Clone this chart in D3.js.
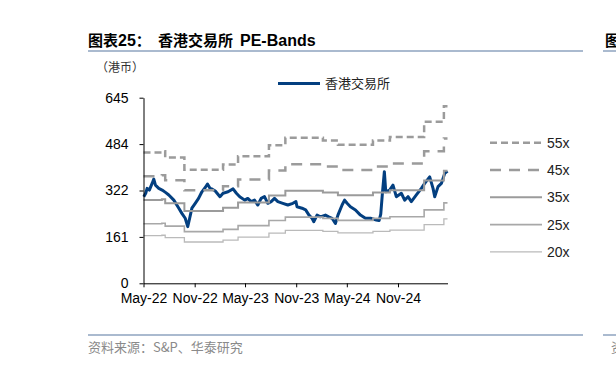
<!DOCTYPE html>
<html>
<head>
<meta charset="utf-8">
<script src="https://cdn.jsdelivr.net/npm/d3@7"></script>
<style>
  body { margin: 0; background: #fff; }
  svg { display: block; }
</style>
</head>
<body>
<div id="chart"></div>
<script>
// 香港交易所 share price (HKD)
const priceDates = [
  "2022-05-02","2022-05-09","2022-05-14","2022-05-22","2022-06-01","2022-06-07","2022-06-13","2022-06-25","2022-07-07","2022-07-19",
  "2022-07-31","2022-08-18","2022-09-05","2022-09-16","2022-09-28","2022-10-07","2022-10-14","2022-10-22","2022-11-03","2022-11-15",
  "2022-11-27","2022-12-09","2022-12-17","2022-12-26","2023-01-02","2023-01-14","2023-01-31","2023-02-11","2023-03-01","2023-03-19",
  "2023-03-31","2023-04-12","2023-04-30","2023-05-11","2023-05-23","2023-06-04","2023-06-16","2023-06-28","2023-07-10","2023-07-22",
  "2023-08-03","2023-08-15","2023-08-27","2023-09-14","2023-10-02","2023-10-20","2023-10-31","2023-11-04","2023-11-22","2023-12-05",
  "2023-12-17","2023-12-28","2024-01-03","2024-01-15","2024-01-27","2024-02-14","2024-02-26","2024-03-09","2024-03-21","2024-03-30",
  "2024-04-14","2024-04-23","2024-05-02","2024-05-14","2024-06-01","2024-06-19","2024-07-07","2024-07-25","2024-08-15","2024-08-25",
  "2024-08-31","2024-09-06","2024-09-13","2024-09-18","2024-10-02","2024-10-14","2024-10-26","2024-11-13","2024-11-25","2024-12-07",
  "2024-12-19","2025-01-06","2025-01-24","2025-02-05","2025-02-23","2025-03-07","2025-03-13","2025-03-25","2025-04-06","2025-04-18",
  "2025-04-28"
];
const priceValues = [
  301, 313, 330, 324, 347, 362, 341, 330, 324, 316,
  307, 289, 261, 243, 226, 197, 226, 261, 278, 295,
  318, 333, 345, 330, 328, 321, 301, 313, 318, 328,
  313, 301, 289, 295, 284, 289, 272, 295, 301, 278,
  284, 295, 284, 278, 272, 278, 284, 266, 261, 255,
  237, 226, 214, 237, 231, 237, 231, 226, 208, 237,
  272, 289, 278, 266, 255, 237, 226, 226, 220, 218,
  240, 313, 388, 318, 324, 341, 301, 313, 289, 301,
  284, 307, 330, 347, 370, 330, 301, 336, 347, 382,
  390
];

// forward EPS steps used for the bands
const epsDates = [
  "2022-05-01","2022-07-06","2022-07-18","2022-09-25","2023-02-11","2023-04-06","2023-07-26",
  "2023-09-23","2024-02-05","2024-03-30","2024-08-03","2024-10-03","2025-02-03","2025-04-15","2025-04-28"
];
const epsValues = [8.27, 8.35, 7.95, 7.18, 7.5, 8.02, 8.72, 9.2, 9.02, 8.75, 9.02, 9.25, 10.2, 11.18, 11.18];

const bandMultiples = [55, 45, 35, 25, 20];
const bandLabels = ["55x", "45x", "35x", "25x", "20x"];

const xTickDates = ["2022-05-01","2022-11-01","2023-05-01","2023-11-01","2024-05-01","2024-11-01"];
const yTickValues = [0, 161.25, 322.5, 483.75, 645];
const yTickLabels = ["0", "161", "322", "484", "645"];

const seriesName = "香港交易所";
const titleLead = "图表25：";
const titleName = "香港交易所";
const titleTail = "PE-Bands";
const unitLabel = "（港币）";
const sourceText = "资料来源：S&P、华泰研究";

const W = 616, H = 365;
const plot = {left: 143.5, right: 447.5, top: 97.7, bottom: 283.3};
const parse = d3.timeParse("%Y-%m-%d");

const svg = d3.select("#chart").append("svg").attr("width", W).attr("height", H);

const x = d3.scaleTime()
  .domain([parse("2022-05-01"), parse("2025-04-28")])
  .range([plot.left, plot.right]);
const y = d3.scaleLinear().domain([0, 645]).range([plot.bottom, plot.top]);

const cjk = "'Noto Sans CJK SC', sans-serif";
const latin = "'Liberation Sans', Arial, sans-serif";

// title
const title = svg.append("text").attr("y", 46).attr("font-weight", "bold").attr("fill", "#000");
title.append("tspan").attr("x", 88).attr("font-family", cjk).attr("font-size", 15).text("图表");
title.append("tspan").attr("font-family", latin).attr("font-size", 16).text("25");
title.append("tspan").attr("font-family", cjk).attr("font-size", 15).text("：");
title.append("tspan").attr("x", 158).attr("font-family", cjk).attr("font-size", 15).text(titleName);
title.append("tspan").attr("x", 240).attr("font-family", latin).attr("font-size", 16).text(titleTail);

svg.append("line").attr("x1", 88).attr("x2", 583).attr("y1", 51).attr("y2", 51)
  .attr("stroke", "#8ea3bf").attr("stroke-width", 1.5);
svg.append("line").attr("x1", 603).attr("x2", 616).attr("y1", 51).attr("y2", 51)
  .attr("stroke", "#8ea3bf").attr("stroke-width", 1.5);
svg.append("text").attr("x", 605).attr("y", 46).attr("font-family", cjk).attr("font-size", 15)
  .attr("font-weight", "bold").text("图");

// unit
svg.append("text").attr("x", 96).attr("y", 72).attr("font-family", cjk).attr("font-size", 12)
  .attr("fill", "#333").text(unitLabel);

// price line
const price = priceDates.map((d, i) => ({date: parse(d), v: priceValues[i]}));
svg.append("path").datum(price)
  .attr("fill", "none").attr("stroke", "#033f80").attr("stroke-width", 3)
  .attr("stroke-linejoin", "round")
  .attr("d", d3.line().x(d => x(d.date)).y(d => y(d.v)));

// bands
const bandStyles = [
  {color: "#9b9b9b", width: 2.5, dash: "7,4"},
  {color: "#9b9b9b", width: 2.5, dash: "11,8"},
  {color: "#9b9b9b", width: 2, dash: null},
  {color: "#a8a8a8", width: 1.6, dash: null},
  {color: "#bababa", width: 1.3, dash: null}
];
const eps = epsDates.map((d, i) => ({date: parse(d), v: epsValues[i]}));
bandMultiples.forEach((m, k) => {
  const st = bandStyles[k];
  svg.append("path").datum(eps)
    .attr("fill", "none").attr("stroke", st.color).attr("stroke-width", st.width)
    .attr("stroke-dasharray", st.dash)
    .attr("d", d3.line().curve(d3.curveStepAfter).x(d => x(d.date)).y(d => y(d.v * m)));
});

// axes
const fmt = d3.timeFormat("%b-%y");
const xAxis = d3.axisBottom(x)
  .tickValues(xTickDates.map(parse)).tickFormat(fmt)
  .tickSize(4).tickSizeOuter(0).tickPadding(6);
const gx = svg.append("g").attr("transform", `translate(0,${plot.bottom})`).call(xAxis);
gx.selectAll("text").attr("font-family", latin).attr("font-size", 14).attr("fill", "#000");

const yAxis = d3.axisLeft(y)
  .tickValues(yTickValues).tickFormat((d, i) => yTickLabels[i])
  .tickSize(4).tickSizeOuter(0).tickPadding(11);
const gy = svg.append("g").attr("transform", `translate(${plot.left},0)`).call(yAxis);
gy.selectAll("text").attr("font-family", latin).attr("font-size", 14).attr("fill", "#000");
svg.selectAll(".domain, .tick line").attr("stroke", "#000");

// legend: price
svg.append("line").attr("x1", 278).attr("x2", 320).attr("y1", 83.5).attr("y2", 83.5)
  .attr("stroke", "#033f80").attr("stroke-width", 3);
svg.append("text").attr("x", 325).attr("y", 88).attr("font-family", cjk).attr("font-size", 13)
  .attr("fill", "#222").text(seriesName);

// legend: bands
bandLabels.forEach((lab, k) => {
  const st = bandStyles[k];
  const ly = 142.7 + k * 27.3;
  svg.append("line").attr("x1", 490).attr("x2", 542).attr("y1", ly).attr("y2", ly)
    .attr("stroke", st.color).attr("stroke-width", st.width).attr("stroke-dasharray", st.dash);
  svg.append("text").attr("x", 547).attr("y", ly + 5).attr("font-family", latin)
    .attr("font-size", 14).attr("fill", "#222").text(lab);
});

// source
svg.append("line").attr("x1", 88).attr("x2", 583).attr("y1", 335).attr("y2", 335)
  .attr("stroke", "#8ea3bf").attr("stroke-width", 1.5);
svg.append("line").attr("x1", 603).attr("x2", 616).attr("y1", 335).attr("y2", 335)
  .attr("stroke", "#8ea3bf").attr("stroke-width", 1.5);
svg.append("text").attr("x", 88).attr("y", 352).attr("font-family", cjk).attr("font-size", 13)
  .attr("fill", "#8a8a8a").text(sourceText);
svg.append("text").attr("x", 611).attr("y", 352).attr("font-family", cjk).attr("font-size", 13)
  .attr("fill", "#8a8a8a").text("资");
</script>
</body>
</html>
